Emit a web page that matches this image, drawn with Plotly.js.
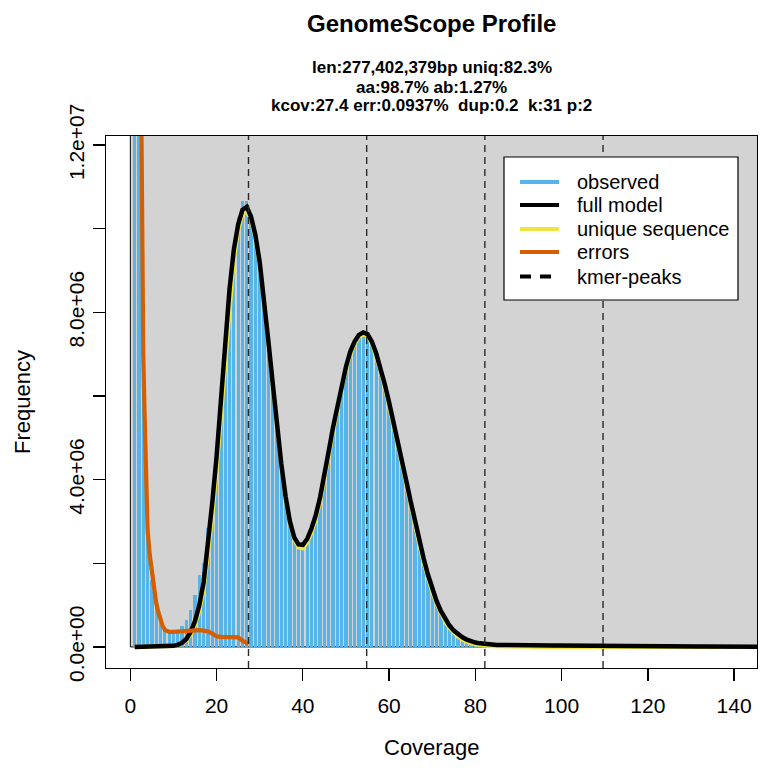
<!DOCTYPE html>
<html>
<head>
<meta charset="utf-8">
<script src="https://cdn.plot.ly/plotly-3.0.1.min.js"></script>
<style>html,body{margin:0;padding:0;background:#fff;}#chart{width:770px;height:777px;}</style>
</head>
<body>
<div id="chart"></div>
<script>
// ---------- data (frequencies in millions of k-mers) ----------
const coverage = [1,2,3,4,5,6,7,8,9,10,11,12,13,14,15,16,17,18,19,20,21,22,23,24,25,26,27,28,29,30,31,32,33,34,35,36,37,38,39,40,41,42,43,44,45,46,47,48,49,50,51,52,53,54,55,56,57,58,59,60,61,62,63,64,65,66,67,68,69,70,71,72,73,74,75,76,77,78,79,80,81,82,83,84,85,86,87,88,89,90,91,92,93,94,95,96,97,98,99,100,101,102,103,104,105,106,107,108,109,110,111,112,113,114,115,116,117,118,119,120,121,122,123,124,125,126,127,128,129,130,131,132,133,134,135,136,137,138,139,140,141,142,143,144,145,146];

const observed = [80,40,8.2,2.65,1.6,0.95,0.6,0.42,0.37,0.36,0.41,0.49,0.65,0.89,1.24,1.72,2.0,2.85,3.65,4.7,6.0,7.38,8.6,9.58,10.28,10.65,10.67,10.35,9.85,9.15,8.3,7.3,6.3,5.3,4.4,3.62,3.05,2.68,2.52,2.5,2.63,2.88,3.2,3.62,4.12,4.7,5.27,5.8,6.3,6.72,7.08,7.32,7.47,7.52,7.48,7.3,7.0,6.65,6.25,5.83,5.38,4.9,4.42,3.93,3.45,2.97,2.52,2.1,1.72,1.38,1.1,0.86,0.66,0.5,0.38,0.28,0.2,0.15,0.11,0.08,0.06,0.05,0.045,0.04,0.036,0.034,0.033,0.032,0.031,0.030,0.030,0.029,0.029,0.028,0.028,0.028,0.028,0.028,0.028,0.028,0.028,0.029,0.029,0.03,0.03,0.031,0.031,0.031,0.031,0.031,0.031,0.03,0.03,0.029,0.028,0.027,0.026,0.025,0.024,0.023,0.022,0.021,0.02,0.019,0.018,0.017,0.016,0.015,0.014,0.013,0.012,0.011,0.011,0.01,0.009,0.009,0.008,0.008,0.007,0.007,0.006,0.006,0.005,0.005,0.005,0.004];

const fullModel = [0,0,0,0,0,0,0.002,0.005,0.012,0.025,0.05,0.1,0.19,0.36,0.62,1.0,1.55,2.45,3.45,4.55,5.9,7.3,8.55,9.5,10.1,10.45,10.52,10.28,9.85,9.2,8.32,7.32,6.32,5.32,4.38,3.6,3.0,2.62,2.45,2.44,2.58,2.83,3.15,3.58,4.08,4.68,5.25,5.78,6.28,6.7,7.06,7.3,7.46,7.52,7.48,7.3,7.02,6.67,6.28,5.85,5.4,4.93,4.45,3.96,3.48,3.0,2.55,2.12,1.73,1.39,1.1,0.86,0.66,0.51,0.39,0.3,0.23,0.175,0.135,0.105,0.085,0.07,0.06,0.053,0.048,0.045,0.042,0.04,0.038,0.037,0.036,0.035,0.034,0.034,0.034,0.034,0.034,0.034,0.035,0.035,0.035,0.036,0.036,0.037,0.037,0.038,0.038,0.038,0.038,0.038,0.038,0.037,0.036,0.035,0.034,0.032,0.031,0.029,0.028,0.026,0.025,0.023,0.022,0.021,0.019,0.018,0.017,0.016,0.015,0.014,0.013,0.012,0.011,0.011,0.01,0.009,0.009,0.008,0.008,0.007,0.007,0.006,0.006,0.006,0.005,0.005];

const uniqueSeq = [0,0,0,0,0,0,0.002,0.004,0.01,0.02,0.04,0.08,0.16,0.3,0.52,0.86,1.35,2.15,3.1,4.2,5.5,6.9,8.2,9.25,9.95,10.35,10.42,10.2,9.78,9.14,8.27,7.28,6.28,5.28,4.34,3.55,2.95,2.56,2.38,2.36,2.49,2.73,3.05,3.47,3.97,4.57,5.14,5.68,6.19,6.62,6.99,7.24,7.41,7.47,7.43,7.25,6.96,6.6,6.2,5.77,5.31,4.83,4.35,3.85,3.37,2.89,2.44,2.02,1.64,1.31,1.03,0.8,0.6,0.45,0.33,0.24,0.17,0.12,0.085,0.06,0.042,0.03,0.021,0.015,0.011,0.008,0.006,0.005,0.004,0.003,0.002,0.002,0.002,0.001,0.001,0.001,0.001,0.001,0.001,0.001,0.001,0.001,0.001,0.001,0.001,0.001,0.001,0.001,0.001,0.001,0.001,0.001,0.001,0.001,0.001,0.001,0.001,0.001,0.001,0.001,0.001,0.001,0.001,0.001,0.001,0.001,0.001,0.001,0.001,0.001,0.001,0.001,0.001,0.001,0.001,0.001,0.001,0.001,0.001,0.001,0.001,0.001,0.001,0.001,0.001];

const errorsX = [2.3,2.5,2.75,3.0,3.25,3.5,3.75,4.0,4.5,5.0,5.5,6.0,6.5,7.0,7.5,8.0,8.5,9,10,11,12,13,14,15,16,17,18,19,20,21,22,23,24,25,26,27,27.4];
const errorsY = [16,12.2,8.6,7.0,5.8,4.7,3.55,2.8,2.2,1.75,1.42,1.05,0.83,0.66,0.5,0.41,0.37,0.36,0.36,0.37,0.38,0.39,0.4,0.41,0.4,0.39,0.37,0.32,0.25,0.24,0.24,0.25,0.25,0.23,0.15,0.09,0.07];

const kmerPeaks = [27.4, 54.8, 82.2, 109.6];

const xTicks = [0,20,40,60,80,100,120,140];
const yTicks = [0,2e6,4e6,6e6,8e6,1e7,1.2e7];
const yTickText = ['0.0e+00','','4.0e+06','','8.0e+06','','1.2e+07'];

const titleText = 'GenomeScope Profile';
const subtitleLines = ['len:277,402,379bp uniq:82.3%','aa:98.7% ab:1.27%','kcov:27.4 err:0.0937%  dup:0.2  k:31 p:2'];
const legendLabels = ['observed','full model','unique sequence','errors','kmer-peaks'];

// ---------- build ----------
const M = 1e6;
const scale = a => a.map(v => v * M);
const FONT = 'Liberation Sans, Arial, Helvetica, sans-serif';

const COL_OBS = '#56B4E9', COL_FULL = '#000000', COL_UNIQ = '#F0E442', COL_ERR = '#D55E00', COL_BG = '#D3D3D3';

const traces = [
  {type:'bar', x:coverage, y:scale(observed), width:0.76, marker:{color:COL_OBS, line:{width:0}}, hoverinfo:'skip', showlegend:false},
  {type:'scatter', mode:'lines', x:coverage, y:scale(uniqueSeq), line:{color:COL_UNIQ, width:4}, showlegend:false},
  {type:'scatter', mode:'lines', x:coverage, y:scale(fullModel), line:{color:COL_FULL, width:4.5}, showlegend:false},
  {type:'scatter', mode:'lines', x:errorsX, y:scale(errorsY), line:{color:COL_ERR, width:4.2}, showlegend:false}
];

// plot area in px: left 106, right 757, top 136, bottom 668
const PL=106, PR=757, PT=136, PB=668;
const px = v => (v-PL)/(PR-PL);
const py = v => (PB-v)/(PB-PT);

const shapes = [
  {type:'rect', xref:'x', yref:'y', x0:0, y0:0, x1:1000, y1:1e9, fillcolor:COL_BG, line:{color:'#000', width:1}, layer:'below'}
];
kmerPeaks.forEach(p => shapes.push({type:'line', xref:'x', yref:'paper', x0:p, x1:p, y0:0, y1:1, line:{color:'#2a2a2a', width:1.4, dash:'7px,5px'}, layer:'above'}));

// legend box
shapes.push({type:'rect', xref:'paper', yref:'paper', x0:px(504), x1:px(738), y0:py(300), y1:py(157), fillcolor:'#fff', line:{color:'#000', width:1.2}, layer:'above'});
const legY = [182, 205, 229, 252, 276.5];
const legCols = [COL_OBS, COL_FULL, COL_UNIQ, COL_ERR, '#000'];
legY.forEach((yy,i) => {
  shapes.push({type:'line', xref:'paper', yref:'paper', x0:px(520), x1:px(i===4?552:559), y0:py(yy), y1:py(yy),
    line:{color:legCols[i], width:4, dash: i===4 ? '11px,9px' : 'solid'}, layer:'above'});
});

const annotations = [
  {text:'<b>'+titleText+'</b>', xref:'paper', yref:'paper', x:0.5, y:py(23.6), xanchor:'center', yanchor:'middle', showarrow:false, font:{family:FONT, size:24, color:'#000'}},
  {text:'Coverage', xref:'paper', yref:'paper', x:0.5, y:py(747), xanchor:'center', yanchor:'middle', showarrow:false, font:{family:FONT, size:22, color:'#000'}},
  {text:'Frequency', xref:'paper', yref:'paper', x:px(22), y:0.5, xanchor:'center', yanchor:'middle', textangle:-90, showarrow:false, font:{family:FONT, size:22, color:'#000'}}
];
const subY = [68, 87, 106];
subtitleLines.forEach((t,i) => annotations.push({text:'<b>'+t+'</b>', xref:'paper', yref:'paper', x:0.5, y:py(subY[i]), xanchor:'center', yanchor:'middle', showarrow:false, font:{family:FONT, size:17, color:'#000'}}));
legendLabels.forEach((t,i) => annotations.push({text:t, xref:'paper', yref:'paper', x:px(575), y:py(legY[i]), xanchor:'left', yanchor:'middle', showarrow:false, font:{family:FONT, size:20, color:'#000'}}));

const layout = {
  width:770, height:777,
  margin:{l:PL, r:770-PR, t:PT, b:777-PB, pad:0},
  paper_bgcolor:'#fff', plot_bgcolor:'#fff',
  showlegend:false,
  bargap:0,
  font:{family:FONT, color:'#000'},
  xaxis:{range:[-5.64,145.3], tickvals:xTicks, ticks:'outside', ticklen:12, tickwidth:1.3, tickcolor:'#000',
    showline:true, mirror:true, linecolor:'#000', linewidth:1.3, showgrid:false, zeroline:false,
    tickfont:{family:FONT, size:21, color:'#000'}, ticklabelstandoff:6},
  yaxis:{range:[-504000,12215000], tickvals:yTicks, ticktext:yTickText, tickangle:-90, ticks:'outside', ticklen:12, tickwidth:1.3, tickcolor:'#000',
    showline:true, mirror:true, linecolor:'#000', linewidth:1.3, showgrid:false, zeroline:false,
    tickfont:{family:FONT, size:21, color:'#000'}},
  shapes:shapes,
  annotations:annotations
};

Plotly.newPlot('chart', traces, layout, {staticPlot:true, displayModeBar:false});
</script>
</body>
</html>
